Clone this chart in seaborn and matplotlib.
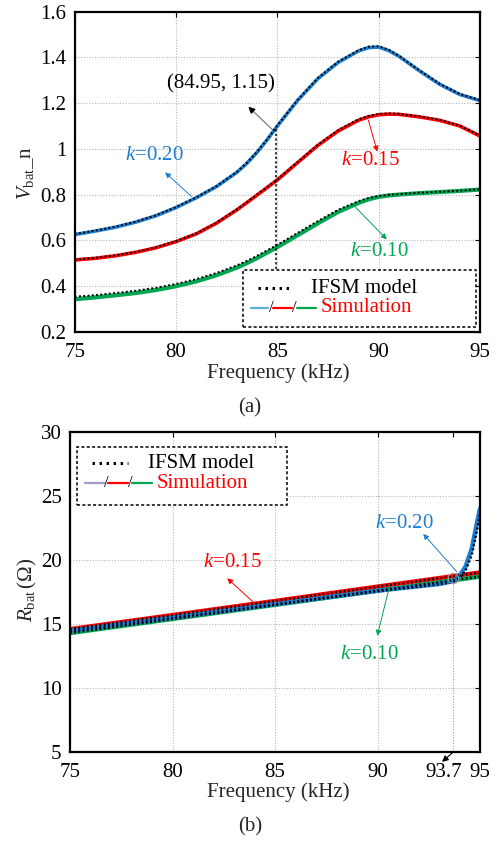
import numpy as np
import pandas as pd
import matplotlib
matplotlib.use("Agg")
import matplotlib.pyplot as plt
import matplotlib.transforms as mtrans
import seaborn as sns
from matplotlib.patches import Rectangle
from matplotlib.lines import Line2D

# ---------------- data ----------------
freq_a = [75, 76, 77, 78, 79, 80, 81, 82, 83, 83.5, 84, 84.5, 85, 86, 87, 88, 89, 89.5, 90, 90.5, 91, 92, 93, 94, 95]
v_k20_sim = [0.625, 0.640, 0.657, 0.679, 0.707, 0.743, 0.786, 0.835, 0.897, 0.937, 0.985, 1.040, 1.100, 1.212, 1.307, 1.378, 1.428, 1.443, 1.445, 1.430, 1.405, 1.342, 1.283, 1.238, 1.211]
v_k20_mod = [0.627, 0.642, 0.659, 0.681, 0.709, 0.745, 0.788, 0.837, 0.899, 0.939, 0.987, 1.042, 1.102, 1.214, 1.310, 1.381, 1.431, 1.447, 1.449, 1.433, 1.407, 1.344, 1.285, 1.240, 1.213]
v_k15_sim = [0.514, 0.521, 0.532, 0.547, 0.567, 0.594, 0.628, 0.675, 0.733, 0.765, 0.798, 0.831, 0.864, 0.940, 1.015, 1.078, 1.125, 1.140, 1.149, 1.152, 1.151, 1.140, 1.125, 1.100, 1.056]
v_k15_mod = [0.516, 0.523, 0.534, 0.549, 0.569, 0.596, 0.630, 0.677, 0.735, 0.767, 0.800, 0.833, 0.866, 0.942, 1.018, 1.082, 1.129, 1.144, 1.153, 1.155, 1.153, 1.142, 1.127, 1.102, 1.058]
v_k10_sim = [0.342, 0.350, 0.359, 0.369, 0.382, 0.399, 0.420, 0.447, 0.480, 0.500, 0.522, 0.546, 0.570, 0.622, 0.674, 0.724, 0.763, 0.779, 0.790, 0.796, 0.800, 0.806, 0.811, 0.816, 0.822]
v_k10_mod = [0.353, 0.360, 0.369, 0.379, 0.392, 0.409, 0.430, 0.457, 0.490, 0.510, 0.532, 0.556, 0.580, 0.632, 0.684, 0.733, 0.771, 0.785, 0.794, 0.799, 0.802, 0.808, 0.812, 0.817, 0.823]

freq_b = [75, 80, 85, 90, 95]
r_k15 = [14.60, 15.70, 16.80, 17.92, 19.02]
r_k10 = [14.30, 15.40, 16.50, 17.60, 18.70]
freq_b20 = [75, 80, 85, 90, 93.0, 93.7, 94.0, 94.3, 94.6, 94.8, 95.0]
r_k20_sim = [14.48, 15.50, 16.55, 17.60, 18.12, 18.35, 18.75, 19.50, 20.90, 22.50, 24.00]
r_k20_mod = [14.45, 15.47, 16.52, 17.57, 18.10, 18.30, 18.60, 19.20, 20.40, 21.90, 23.60]

xticks_a = [75, 80, 85, 90, 95]
yticks_a = [0.2, 0.4, 0.6, 0.8, 1.0, 1.2, 1.4, 1.6]
xticks_b = [75, 80, 85, 90, 93.7, 95]
xticklabels_b = ["75", "80", "85", "90", "93.7", "95"]
yticks_b = [5, 10, 15, 20, 25, 30]

C_BLUE = "#1e7fd0"
C_RED = "#ff0000"
C_GREEN = "#00a651"
C_LBLUE = "#5ab0d8"
C_LAV = "#a59ac8"

# ---------------- style ----------------
sns.set_theme(style="white")
plt.rcParams["font.family"] = ["Liberation Serif", "DejaVu Serif"]
plt.rcParams["mathtext.fontset"] = "custom"
plt.rcParams["mathtext.rm"] = "Liberation Serif"
plt.rcParams["mathtext.it"] = "Liberation Serif:italic"
FS = 15

W, H = 500, 842
fig = plt.figure(figsize=(5.0, 8.42), dpi=100)


def make_axes(l, t, r, b):
    return fig.add_axes([l / W, 1 - b / H, (r - l) / W, (b - t) / H])


box_a = (74.7, 11.7, 480.0, 331.7)
box_b = (70.0, 431.7, 480.0, 752.3)
ax1 = make_axes(*box_a)
ax2 = make_axes(*box_b)


def pa(box, px, py):
    l, t, r, b = box
    return (px - l) / (r - l), (b - py) / (b - t)


def style_axes(ax):
    for s in ax.spines.values():
        s.set_linewidth(1.6)
        s.set_color("black")
    ax.tick_params(direction="in", length=3.5, width=0.8, top=True, right=True,
                   labelsize=FS, colors="black", pad=6)
    ax.tick_params(axis="x", pad=8)
    ax.grid(True, linestyle=(0, (1, 1.5)), color="#b5b5b5", linewidth=0.8)
    ax.set_axisbelow(True)


# ---------------- (a) ----------------
dotted = (0, (1, 1.2))
sns.lineplot(x=freq_a, y=v_k20_sim, ax=ax1, color=C_BLUE, lw=2.6, estimator=None)
sns.lineplot(x=freq_a, y=v_k15_sim, ax=ax1, color=C_RED, lw=2.6, estimator=None)
sns.lineplot(x=freq_a, y=v_k10_sim, ax=ax1, color=C_GREEN, lw=3.0, estimator=None)
for ys in (v_k20_mod, v_k15_mod, v_k10_mod):
    sns.lineplot(x=freq_a, y=ys, ax=ax1, color="black", lw=1.4, linestyle=dotted, estimator=None)

ax1.set_xlim(75, 95)
ax1.set_ylim(0.2, 1.6)
ax1.set_xticks(xticks_a)
ax1.set_yticks(yticks_a)
ax1.set_yticklabels(["%g" % v for v in yticks_a])
style_axes(ax1)
ax1.set_xlabel("Frequency (kHz)", fontsize=FS)
ax1.set_ylabel(r"$V_{\rm bat}$_n", fontsize=FS)
ax1.xaxis.set_label_coords(*pa(box_a, 278, 373))
ax1.xaxis.label.set_va("center")
ax1.yaxis.set_label_coords(*pa(box_a, 25, 173))
ax1.yaxis.label.set_va("center")

# annotation (84.95, 1.15)
ax1.plot([84.95, 84.95], [0.473, 1.09], color="black", lw=1.1, linestyle=(0, (1.5, 1.5)))
ax1.annotate("", xy=(83.57, 1.184), xytext=(84.75, 1.085),
             arrowprops=dict(arrowstyle="-|>", color="#808080", lw=0.9,
                             mutation_scale=9, shrinkA=0, shrinkB=0))
ax1.annotate("", xy=(83.57, 1.184), xytext=(83.7, 1.173),
             arrowprops=dict(arrowstyle="-|>", color="black", lw=0.9,
                             mutation_scale=9, shrinkA=0, shrinkB=0))
ax1.text(82.22, 1.284, "(84.95, 1.15)", fontsize=FS, ha="center", va="center", color="black")


def klabel(ax, x, y, s, c):
    ax.text(x, y, r"$k$=" + s, fontsize=FS, ha="center", va="center", color=c)


def karrow(ax, head, tail, c):
    ax.annotate("", xy=head, xytext=tail,
                arrowprops=dict(arrowstyle="-|>", color=c, lw=0.7,
                                mutation_scale=8, shrinkA=0, shrinkB=0),
                annotation_clip=False)


klabel(ax1, 78.91, 0.969, "0.20", C_BLUE)
karrow(ax1, (79.46, 0.897), (80.77, 0.791), C_BLUE)
klabel(ax1, 89.57, 0.951, "0.15", C_RED)
karrow(ax1, (89.93, 0.988), (89.49, 1.126), C_RED)
klabel(ax1, 90.02, 0.549, "0.10", C_GREEN)
karrow(ax1, (90.40, 0.604), (88.83, 0.747), C_GREEN)


def draw_legend(ax, box, rect, y1, dots, t1x, y2, segs, slashes, t2x):
    x0, y0 = pa(box, rect[0], rect[3])
    x1, yt = pa(box, rect[2], rect[1])
    ax.add_patch(Rectangle((x0, y0), x1 - x0, yt - y0, transform=ax.transAxes,
                           fill=True, facecolor="white", edgecolor="black",
                           lw=1.1, linestyle=(0, (2, 1.5)), zorder=5))
    a, yy = pa(box, dots[0], y1)
    b_, _ = pa(box, dots[1], y1)
    ax.add_line(Line2D([a, b_], [yy, yy], transform=ax.transAxes, color="black",
                       lw=2.2, linestyle=(0, (0.8, 1.5)), zorder=6))
    tx, _ = pa(box, t1x, y1)
    ax.text(tx, yy, "IFSM model", transform=ax.transAxes, fontsize=FS,
            ha="left", va="center", color="black", zorder=6)
    _, yy2 = pa(box, 0, y2)
    for (sa, sb, c) in segs:
        xa, _ = pa(box, sa, y2)
        xb, _ = pa(box, sb, y2)
        ax.add_line(Line2D([xa, xb], [yy2, yy2], transform=ax.transAxes, color=c,
                           lw=1.6, zorder=6))
    for sx in slashes:
        xs, _ = pa(box, sx, y2)
        ax.text(xs, yy2, "/", transform=ax.transAxes, fontsize=12, ha="center",
                va="center", color="black", zorder=6)
    tx2, _ = pa(box, t2x, y2)
    ax.text(tx2, yy2, "Simulation", transform=ax.transAxes, fontsize=FS,
            ha="left", va="center", color=C_RED, zorder=6)


draw_legend(ax1, box_a, (242.7, 270.0, 476.0, 326.7), 288.3, (258.3, 293.3), 311.0,
            307.7, [(250.7, 268.3, C_LBLUE), (273.3, 291.7, C_RED), (297.3, 316.0, C_GREEN)],
            [271.0, 294.3], 321.0)

# ---------------- (b) ----------------
sns.lineplot(x=freq_b, y=r_k15, ax=ax2, color=C_RED, lw=3.2, estimator=None)
sns.lineplot(x=freq_b, y=r_k10, ax=ax2, color=C_GREEN, lw=3.2, estimator=None)
sns.lineplot(x=freq_b20, y=r_k20_sim, ax=ax2, color=C_BLUE, lw=3.2, estimator=None)
for xs, ys in ((freq_b, r_k15), (freq_b, r_k10), (freq_b20, r_k20_mod)):
    sns.lineplot(x=xs, y=ys, ax=ax2, color="black", lw=1.8, linestyle=(0, (0.7, 1.0)), estimator=None)

ax2.set_xlim(75, 95)
ax2.set_ylim(5, 30)
ax2.set_xticks(xticks_b)
ax2.set_xticklabels(xticklabels_b)
ax2.set_yticks(yticks_b)
style_axes(ax2)
ax2.get_xgridlines()[4].set_visible(False)
lab = ax2.get_xticklabels()[4]
lab.set_transform(lab.get_transform() + mtrans.ScaledTranslation(-0.10, 0, fig.dpi_scale_trans))
ax2.set_xlabel("Frequency (kHz)", fontsize=FS)
ax2.set_ylabel(r"$R_{\rm bat}\,(\Omega)$", fontsize=FS)
ax2.xaxis.set_label_coords(*pa(box_b, 278, 791.7))
ax2.xaxis.label.set_va("center")
ax2.yaxis.set_label_coords(*pa(box_b, 27, 590))
ax2.yaxis.label.set_va("center")

# 93.7 marker
ax2.plot([93.7, 93.7], [5, 18.2], color="#a0a0a0", lw=0.8, linestyle=(0, (1, 1.5)))
ax2.plot([93.68], [18.6], marker="o", markersize=7.5, markerfacecolor="none",
         markeredgecolor="#a0a0a0", markeredgewidth=0.8)
ax2.annotate("", xy=(93.15, 4.25), xytext=(93.68, 5.0),
             arrowprops=dict(arrowstyle="-|>", color="black", lw=0.8,
                             mutation_scale=9, shrinkA=0, shrinkB=0),
             annotation_clip=False)

klabel(ax2, 82.90, 19.77, "0.15", C_RED)
karrow(ax2, (82.67, 18.57), (83.91, 16.75), C_RED)
klabel(ax2, 91.29, 22.88, "0.20", C_BLUE)
karrow(ax2, (92.23, 22.03), (93.86, 19.09), C_BLUE)
klabel(ax2, 89.59, 12.60, "0.10", C_GREEN)
karrow(ax2, (89.99, 14.08), (90.58, 17.92), C_GREEN)

draw_legend(ax2, box_b, (77.3, 447.3, 286.7, 505.0), 463.3, (91.7, 128.3), 147.7,
            483.3, [(85.0, 105.0, C_LAV), (108.3, 127.7, C_RED), (132.3, 151.7, C_GREEN)],
            [106.7, 130.0], 156.7)

fig.text(250 / W, 1 - 408 / H, "(a)", fontsize=FS, ha="center", va="center")
fig.text(250 / W, 1 - 827 / H, "(b)", fontsize=FS, ha="center", va="center")

fig.savefig("out.png", dpi=100)
